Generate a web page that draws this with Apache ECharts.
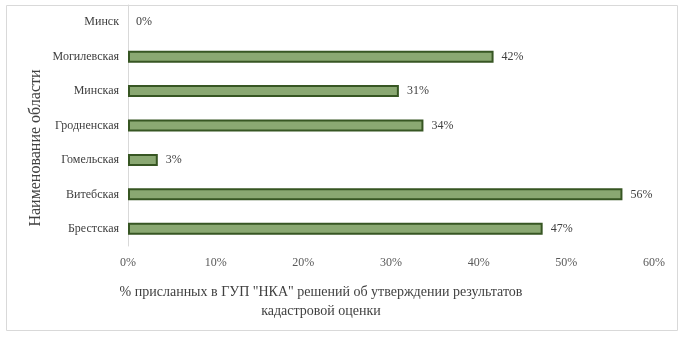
<!DOCTYPE html>
<html><head><meta charset="utf-8">
<script src="https://cdn.jsdelivr.net/npm/echarts@6/dist/echarts.min.js"></script>
<style>html,body{margin:0;padding:0;background:#fff}#c{width:688px;height:338px}</style>
</head><body><div id="c"></div>
<script>
const categories = ['Брестская','Витебская','Гомельская','Гродненская','Минская','Могилевская','Минск'];
const values = [47.3, 56.4, 3.4, 33.7, 30.9, 41.7, 0];
const xTicks = [0, 10, 20, 30, 40, 50, 60];
const xTitle = ['% присланных в ГУП "НКА" решений об утверждении результатов', 'кадастровой оценки'];
const yTitle = 'Наименование области';

const font = '"Liberation Serif", "Times New Roman", serif';
const chart = echarts.init(document.getElementById('c'));
chart.setOption({
  animation: false,
  textStyle: {fontFamily: font},
  grid: {left: 128, right: 34, top: 5, bottom: 92},
  xAxis: {
    type: 'value', min: xTicks[0], max: xTicks[xTicks.length-1], interval: 10,
    axisLine: {show: false}, axisTick: {show: false}, splitLine: {show: false},
    axisLabel: {formatter: v => v + '%', color: '#595959', fontSize: 12, fontFamily: font, margin: 11}
  },
  yAxis: {
    type: 'category', data: categories,
    axisLine: {show: true, lineStyle: {color: '#d9d9d9', width: 1}},
    axisTick: {show: false},
    axisLabel: {color: '#404040', fontSize: 12, fontFamily: font, margin: 9}
  },
  series: [{
    type: 'bar', barWidth: 12,
    data: values.map(v => ({value: v, itemStyle: v === 0 ? {borderWidth: 0} : undefined})),
    itemStyle: {color: '#8aa872', borderColor: '#375623', borderWidth: 2},
    label: {show: true, position: 'right', distance: 8, formatter: p => Math.round(p.value) + '%', color: '#404040', fontSize: 12, fontFamily: font}
  }],
  graphic: [
    {type: 'rect', shape: {x: 6.5, y: 5.5, width: 671, height: 325}, style: {fill: 'none', stroke: '#d9d9d9', lineWidth: 1}, silent: true},
    {type: 'text', x: 321, y: 285, style: {text: xTitle[0], textAlign: 'center', fontSize: 14, fontFamily: font, fill: '#404040'}},
    {type: 'text', x: 321, y: 304, style: {text: xTitle[1], textAlign: 'center', fontSize: 14, fontFamily: font, fill: '#404040'}},
    {type: 'text', x: 28, y: 148, rotation: Math.PI/2, style: {text: yTitle, textAlign: 'center', textVerticalAlign: 'top', fontSize: 16, fontFamily: font, fill: '#404040'}}
  ]
});
</script></body></html>
